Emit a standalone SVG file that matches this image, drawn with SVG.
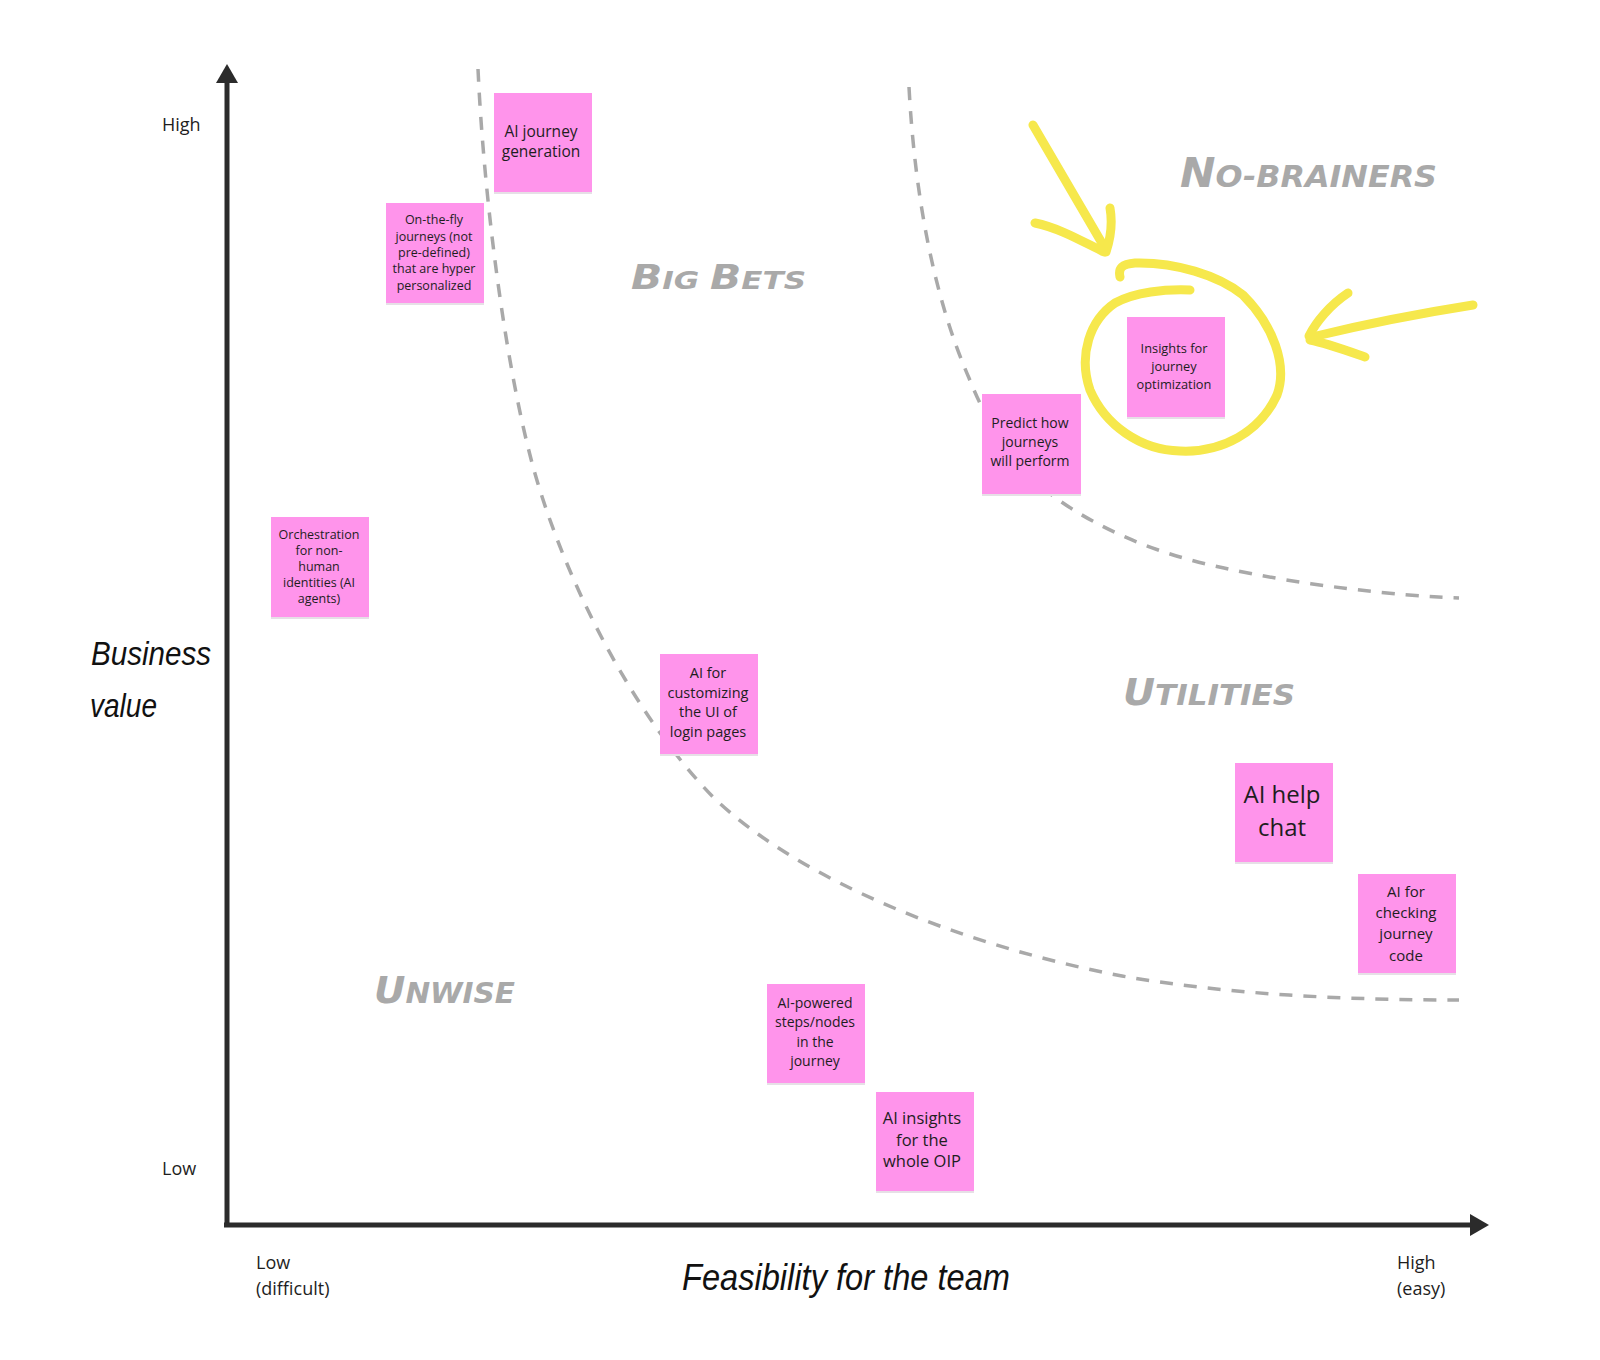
<svg xmlns="http://www.w3.org/2000/svg" width="1600" height="1360" viewBox="0 0 1600 1360">
<defs>
<style>
.note rect.bg{fill:#ff94eb}
.note rect.sh{fill:#e6e0e6}
.note text{font-family:"Open Sans","Noto Sans",sans-serif;fill:#1e1e1e;text-anchor:middle}
.ax{font-family:"Open Sans","Noto Sans",sans-serif;font-size:18px;fill:#1e1e1e}
.hand{font-family:"Liberation Sans",sans-serif;font-style:italic;fill:#111}
.quad{font-family:"DejaVu Sans",sans-serif;font-weight:bold;font-style:italic;fill:#a9a9a9}
.dash{fill:none;stroke:#a9a9a9;stroke-width:3.5;stroke-dasharray:13 11}
.yel{fill:none;stroke:#f6e84c;stroke-width:9;stroke-linecap:round;stroke-linejoin:round}
.axis{stroke:#2b2b2b;stroke-width:5;fill:none}
</style>
<marker id="ah" markerWidth="20" markerHeight="22" refX="0" refY="11" orient="auto" markerUnits="userSpaceOnUse"><path d="M0,0 L19,11 L0,22 z" fill="#2b2b2b"/></marker>
</defs>
<rect width="1600" height="1360" fill="#ffffff"/>

<g id="connectors">
<path class="dash" d="M478,69 C484,200 505,360 531,459 C560,570 630,712 714,798 C800,880 960,945 1122,976 C1230,995 1350,1000 1459,1000"/>
<path class="dash" d="M909,87 C915,200 935,300 969,378 C990,430 1015,470 1056,498 C1100,530 1160,555 1224,568 C1300,585 1400,596 1459,598"/>
</g>

<g id="axes">
<line class="axis" x1="227" y1="1226" x2="227" y2="83" marker-end="url(#ah)"/>
<line class="axis" x1="224" y1="1225" x2="1470" y2="1225" marker-end="url(#ah)"/>
<text class="ax" x="162" y="131">High</text>
<text class="ax" x="162" y="1175">Low</text>
<text class="ax" x="256" y="1269">Low</text>
<text class="ax" x="256" y="1295">(difficult)</text>
<text class="ax" x="1397" y="1269">High</text>
<text class="ax" x="1397" y="1295">(easy)</text>
<text class="hand" x="91" y="665" font-size="34" textLength="120" lengthAdjust="spacingAndGlyphs">Business</text>
<text class="hand" x="90" y="717" font-size="34" textLength="67" lengthAdjust="spacingAndGlyphs">value</text>
<text class="hand" x="682" y="1290" font-size="36" textLength="328" lengthAdjust="spacingAndGlyphs">Feasibility for the team</text>
</g>

<g id="quadrant-labels">
<text class="quad" x="631" y="289" textLength="175" lengthAdjust="spacingAndGlyphs"><tspan font-size="33">B</tspan><tspan font-size="25">IG </tspan><tspan font-size="33">B</tspan><tspan font-size="25">ETS</tspan></text>
<text class="quad" x="1180" y="187" textLength="257" lengthAdjust="spacingAndGlyphs"><tspan font-size="40">N</tspan><tspan font-size="30">O-BRAINERS</tspan></text>
<text class="quad" x="1123" y="705" textLength="172" lengthAdjust="spacingAndGlyphs"><tspan font-size="37">U</tspan><tspan font-size="29">TILITIES</tspan></text>
<text class="quad" x="374" y="1003" textLength="141" lengthAdjust="spacingAndGlyphs"><tspan font-size="38">U</tspan><tspan font-size="29">NWISE</tspan></text>
</g>

<g id="highlight">
<path class="yel" d="M1033,125 L1106,250"/>
<path class="yel" d="M1110,208 C1113,225 1110,240 1106,252"/>
<path class="yel" d="M1035,223 C1060,228 1085,243 1104,252"/>
<path class="yel" d="M1120,277 C1118,268 1122,264 1135,263 C1175,262 1218,275 1243,295 C1273,325 1288,365 1277,395 C1260,432 1222,453 1180,451 C1140,450 1105,425 1090,390 C1078,355 1090,320 1115,303 C1135,292 1165,289 1190,290"/>
<path class="yel" d="M1473,305 Q1390,318 1312,337"/>
<path class="yel" d="M1348,293 C1330,305 1316,322 1309,336"/>
<path class="yel" d="M1365,357 C1345,350 1326,343 1310,340"/>
</g>

<g id="n1" class="note">
<rect class="sh" x="494" y="94" width="98" height="100"/>
<rect class="bg" x="494" y="93" width="98" height="99"/>
<text font-size="15.5"><tspan x="541" y="137">AI journey</tspan><tspan x="541" y="157">generation</tspan></text>
</g>
<g id="n2" class="note">
<rect class="sh" x="386" y="204" width="98" height="101"/>
<rect class="bg" x="386" y="203" width="98" height="100"/>
<text font-size="12.5"><tspan x="434" y="224">On-the-fly</tspan><tspan x="434" y="240.5">journeys (not</tspan><tspan x="434" y="257">pre-defined)</tspan><tspan x="434" y="273">that are hyper</tspan><tspan x="434" y="289.5">personalized</tspan></text>
</g>
<g id="n3" class="note">
<rect class="sh" x="271" y="518" width="98" height="101"/>
<rect class="bg" x="271" y="517" width="98" height="100"/>
<text font-size="12.5"><tspan x="319" y="538.5">Orchestration</tspan><tspan x="319" y="554.5">for non-</tspan><tspan x="319" y="570.5">human</tspan><tspan x="319" y="587">identities (AI</tspan><tspan x="319" y="603">agents)</tspan></text>
</g>
<g id="n4" class="note">
<rect class="sh" x="660" y="655" width="98" height="101"/>
<rect class="bg" x="660" y="654" width="98" height="100"/>
<text font-size="14.5"><tspan x="708" y="678">AI for</tspan><tspan x="708" y="698">customizing</tspan><tspan x="708" y="717">the UI of</tspan><tspan x="708" y="737">login pages</tspan></text>
</g>
<g id="n5" class="note">
<rect class="sh" x="982" y="395" width="99" height="101"/>
<rect class="bg" x="982" y="394" width="99" height="100"/>
<text font-size="14"><tspan x="1030" y="428">Predict how</tspan><tspan x="1030" y="447">journeys</tspan><tspan x="1030" y="466">will perform</tspan></text>
</g>
<g id="n6" class="note">
<rect class="sh" x="1127" y="318" width="98" height="101"/>
<rect class="bg" x="1127" y="317" width="98" height="100"/>
<text font-size="12.8"><tspan x="1174" y="353">Insights for</tspan><tspan x="1174" y="370.5">journey</tspan><tspan x="1174" y="388.5">optimization</tspan></text>
</g>
<g id="n7" class="note">
<rect class="sh" x="1235" y="764" width="98" height="100"/>
<rect class="bg" x="1235" y="763" width="98" height="99"/>
<text font-size="24"><tspan x="1282" y="803">AI help</tspan><tspan x="1282" y="836">chat</tspan></text>
</g>
<g id="n8" class="note">
<rect class="sh" x="1358" y="875" width="98" height="100"/>
<rect class="bg" x="1358" y="874" width="98" height="99"/>
<text font-size="15"><tspan x="1406" y="896.5">AI for</tspan><tspan x="1406" y="917.5">checking</tspan><tspan x="1406" y="939">journey</tspan><tspan x="1406" y="960.5">code</tspan></text>
</g>
<g id="n9" class="note">
<rect class="sh" x="767" y="985" width="98" height="100"/>
<rect class="bg" x="767" y="984" width="98" height="99"/>
<text font-size="14"><tspan x="815" y="1008">AI-powered</tspan><tspan x="815" y="1027">steps/nodes</tspan><tspan x="815" y="1047">in the</tspan><tspan x="815" y="1066">journey</tspan></text>
</g>
<g id="n10" class="note">
<rect class="sh" x="876" y="1093" width="98" height="100"/>
<rect class="bg" x="876" y="1092" width="98" height="99"/>
<text font-size="16.5"><tspan x="922" y="1124">AI insights</tspan><tspan x="922" y="1146">for the</tspan><tspan x="922" y="1167">whole OIP</tspan></text>
</g>
</svg>
